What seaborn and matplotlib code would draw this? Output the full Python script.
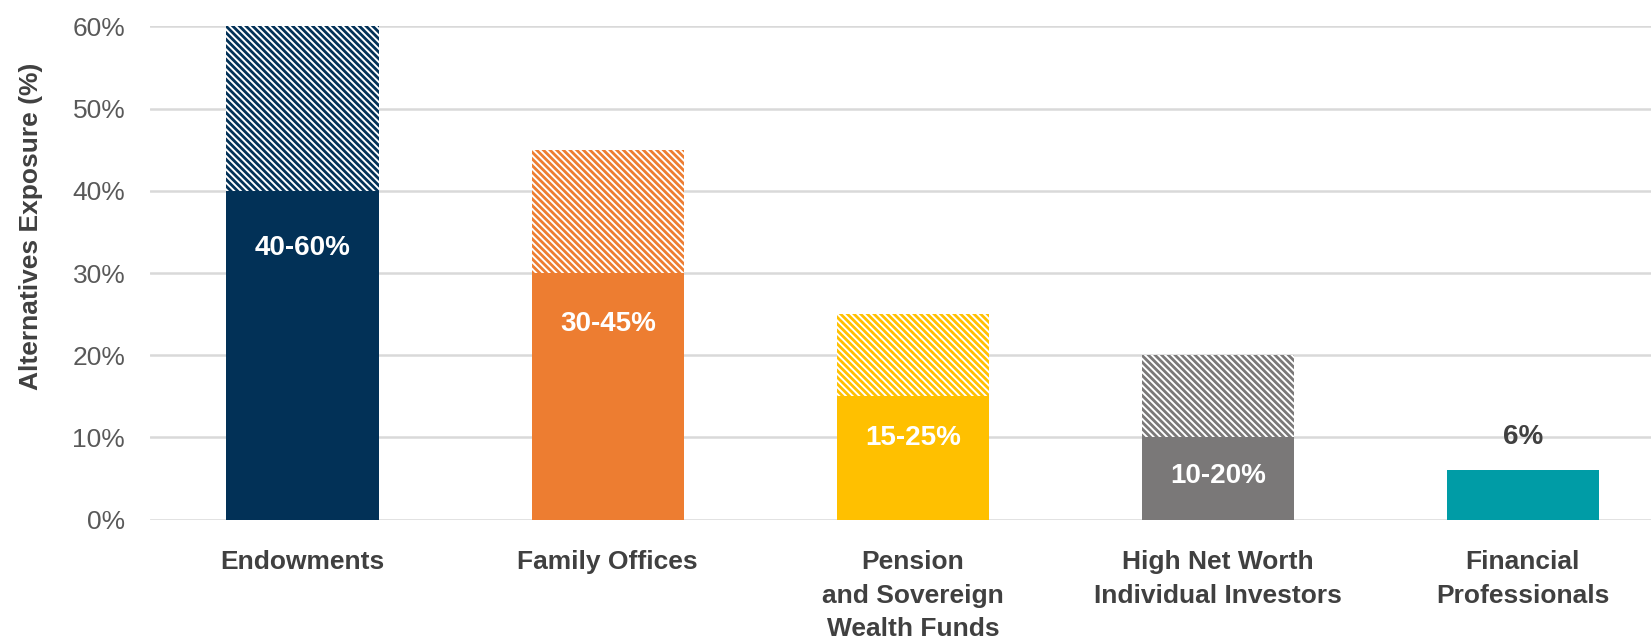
import pandas as pd
import matplotlib
matplotlib.use('Agg')
import matplotlib.pyplot as plt
import seaborn as sns
import warnings
warnings.filterwarnings('ignore')

# Data
categories = ['Endowments', 'Family Offices', 'Pension\nand Sovereign\nWealth Funds',
              'High Net Worth\nIndividual Investors', 'Financial\nProfessionals']
low = [40, 30, 15, 10, 6]
high = [60, 45, 25, 20, 6]
range_labels = ['40-60%', '30-45%', '15-25%', '10-20%', '6%']
colors = ['#023157', '#ED7D31', '#FFC000', '#7A7878', '#009CA6']
yticks = [0, 10, 20, 30, 40, 50, 60]

df = pd.DataFrame({'group': categories, 'low': low, 'high': high})

sns.set_style('white')
plt.rcParams['font.family'] = ['Liberation Sans', 'DejaVu Sans']
plt.rcParams['hatch.linewidth'] = 2.0

fig, ax = plt.subplots(figsize=(16.51, 6.44), dpi=100)
fig.subplots_adjust(left=0.091, right=1.0, top=0.959, bottom=0.193)

# gridlines
for t in yticks:
    ax.axhline(t, color='#D9D9D9', lw=1.8, zorder=0)

# upper range (hatched)
sns.barplot(data=df, x='group', y='high', hue='group', palette=colors, legend=False,
            width=0.5, ax=ax, saturation=1)
high_bars = [b for c in ax.containers for b in c]
n_cont = len(ax.containers)

# lower bound (solid)
sns.barplot(data=df, x='group', y='low', hue='group', palette=colors, legend=False,
            width=0.5, ax=ax, saturation=1)
low_bars = [b for c in ax.containers[n_cont:] for b in c]

for b in high_bars:
    c = b.get_facecolor()
    b.set_facecolor('white')
    b.set_edgecolor(c)
    b.set_hatch('\\' * 5)
    b.set_linewidth(0)
    b.set_zorder(2)
for b in low_bars:
    b.set_linewidth(0)
    b.set_zorder(3)

# labels
for i, (lo, hi, lab) in enumerate(zip(low, high, range_labels)):
    if hi > lo:
        ax.text(i, lo - 3.9 - 0.075 * lo, lab, ha='center', va='center', color='white',
                fontsize=20, fontweight='bold', zorder=5)
    else:
        ax.text(i, lo + 4.1, lab, ha='center', va='center', color='#404040',
                fontsize=20, fontweight='bold', zorder=5)

ax.set_ylim(0, 60)
ax.set_xlim(-0.5, 4.42)
ax.set_yticks(yticks)
ax.set_yticklabels([f'{t}%' for t in yticks], fontsize=19, color='#595959')
ax.tick_params(axis='y', length=0, pad=18)
ax.tick_params(axis='x', length=0, pad=22)
ax.set_xticks(range(len(categories)))
ax.set_xticklabels(categories, fontsize=19, fontweight='bold', color='#404040',
                   linespacing=1.5, va='top')
ax.set_xlabel('')
ax.set_ylabel('Alternatives Exposure (%)', fontsize=19, fontweight='bold', color='#404040')
ax.yaxis.set_label_coords(-0.0713, 0.594)
sns.despine(left=True, bottom=True, top=True, right=True)

plt.savefig('out.png', dpi=100)
